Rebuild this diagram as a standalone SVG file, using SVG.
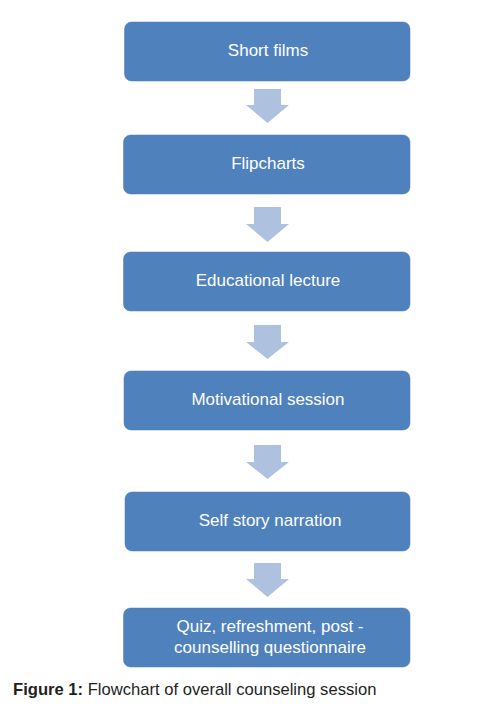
<svg xmlns="http://www.w3.org/2000/svg" width="499" height="712" viewBox="0 0 499 712">
<style>
.box{fill:#4F81BD;stroke:#4A7BB5;stroke-width:0.5}
.lbl{font-family:"Liberation Sans",Arial,sans-serif;font-size:17px;fill:#FFFFFF;text-anchor:middle}
.arr{fill:#AEC2DF}
.cap{font-family:"Liberation Sans",Arial,sans-serif;font-size:16.6px;fill:#231F20}
</style>
<rect width="499" height="712" fill="#FFFFFF"/>
<g id="connectors">
<polygon class="arr" points="254,89 281,89 281,105 289,105 267.5,123 246,105 254,105"/>
<polygon class="arr" points="254,207 281,207 281,224 289,224 267.5,242 246,224 254,224"/>
<polygon class="arr" points="254,325 281,325 281,342 289,342 267.5,359 246,342 254,342"/>
<polygon class="arr" points="254,445 281,445 281,462 289,462 267.5,479 246,462 254,462"/>
<polygon class="arr" points="254,563 281,563 281,579 289,579 267.5,597 246,579 254,579"/>
</g>
<g id="n1"><rect class="box" x="124.5" y="22" width="285.5" height="59" rx="7"/><text class="lbl" x="268" y="56">Short films</text></g>
<g id="n2"><rect class="box" x="123.5" y="135" width="286.5" height="59" rx="7"/><text class="lbl" x="268" y="169">Flipcharts</text></g>
<g id="n3"><rect class="box" x="123.5" y="252" width="286.5" height="59" rx="7"/><text class="lbl" x="268" y="286">Educational lecture</text></g>
<g id="n4"><rect class="box" x="124" y="371" width="286" height="59" rx="7"/><text class="lbl" x="268" y="405">Motivational session</text></g>
<g id="n5"><rect class="box" x="125" y="492" width="285" height="59" rx="7"/><text class="lbl" x="270" y="526">Self story narration</text></g>
<g id="n6"><rect class="box" x="123.5" y="608" width="286.5" height="59" rx="7"/><text class="lbl" x="270" y="632">Quiz, refreshment, post -</text><text class="lbl" x="270" y="653">counselling questionnaire</text></g>
<text class="cap" x="13" y="695"><tspan font-weight="bold">Figure 1:</tspan> Flowchart of overall counseling session</text>
</svg>
